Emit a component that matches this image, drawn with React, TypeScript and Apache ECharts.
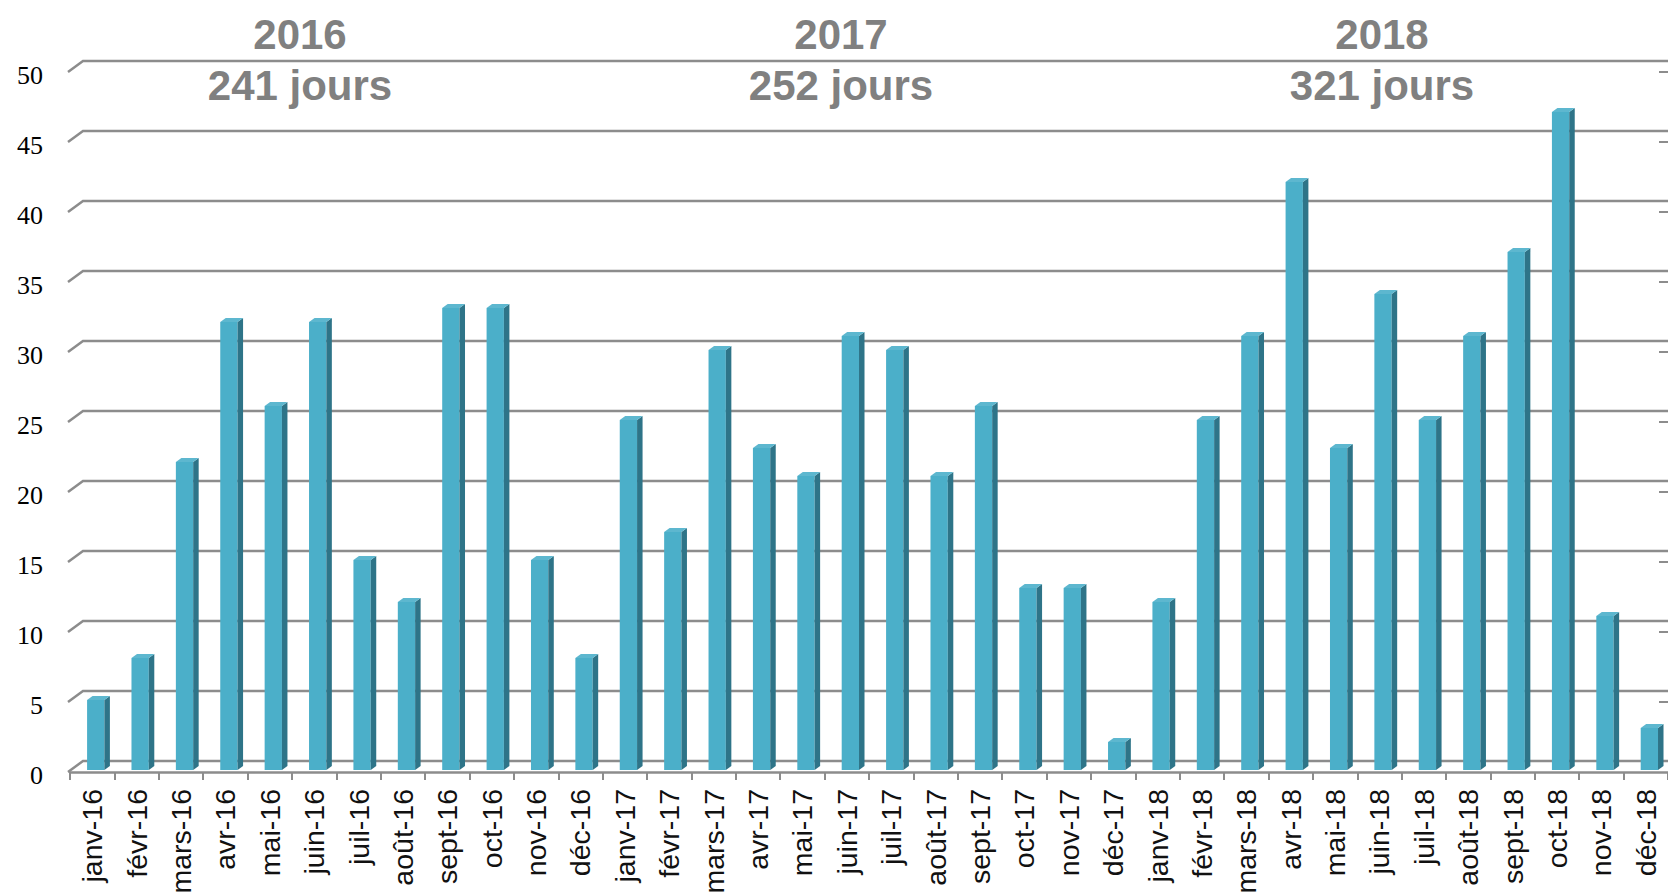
import React, { useEffect, useRef } from "react";
import * as echarts from "echarts";

const months = ["janv", "févr", "mars", "avr", "mai", "juin", "juil", "août", "sept", "oct", "nov", "déc"];
const years = ["16", "17", "18"];
const categories: string[] = years.flatMap((y) => months.map((m) => `${m}-${y}`));

const values2016 = [5, 8, 22, 32, 26, 32, 15, 12, 33, 33, 15, 8];
const values2017 = [25, 17, 30, 23, 21, 31, 30, 21, 26, 13, 13, 2];
const values2018 = [12, 25, 31, 42, 23, 34, 25, 31, 37, 47, 11, 3];
const allValues = [...values2016, ...values2017, ...values2018];

const yTicks = [0, 5, 10, 15, 20, 25, 30, 35, 40, 45, 50];

const yearTitles = [
  { year: "2016", days: "241 jours", x: 300 },
  { year: "2017", days: "252 jours", x: 841 },
  { year: "2018", days: "321 jours", x: 1382 },
];

const FRONT = "#4BAFC9";
const SIDE = "#2E7488";
const TOP = "#5DB7CF";
const GRID = "#8C8C8C";

export default function App() {
  const ref = useRef<HTMLDivElement>(null);

  useEffect(() => {
    if (!ref.current) return;
    const chart = echarts.init(ref.current, undefined, { renderer: "svg" });

    const option: any = {
      animation: false,
      backgroundColor: "#ffffff",
      grid: { left: 70, right: 0, top: 75, bottom: 121, containLabel: false, outerBoundsMode: "none" },
      xAxis: {
        type: "category",
        data: categories,
        offset: -3,
        axisLine: { show: true, lineStyle: { color: GRID, width: 2.5 } },
        axisTick: { show: true, length: 8, lineStyle: { color: GRID, width: 2 } },
        axisLabel: {
          rotate: 90,
          interval: 0,
          margin: 17,
          fontSize: 28.5,
          fontFamily: "Liberation Sans, Arial, sans-serif",
          color: "#111111",
        },
        splitLine: { show: false },
      },
      yAxis: {
        type: "value",
        min: 0,
        max: 50,
        interval: 5,
        axisLine: { show: false },
        axisTick: { show: false },
        splitLine: { show: false },
        axisLabel: {
          margin: 27,
          fontSize: 26,
          fontFamily: "Liberation Serif, Times New Roman, serif",
          color: "#000000",
        },
      },
      series: [
        {
          type: "custom",
          name: "grid",
          clip: false,
          z: 1,
          silent: true,
          data: yTicks.map((t) => [0, t]),
          renderItem: (params: any, api: any) => {
            const v = api.value(1);
            const y = api.coord([0, v])[1];
            const cs = params.coordSys;
            const left = cs.x;
            const right = cs.x + cs.width;
            const fy = y - 3;
            const by = y - 14;
            const children: any[] = [
              {
                type: "polyline",
                shape: { points: [[left - 2, fy], [left + 13, by], [right, by]] },
                style: { stroke: GRID, lineWidth: 2.5, fill: "none" },
              },
            ];
            if (v > 0) {
              children.push({
                type: "line",
                shape: { x1: right - 9, y1: fy, x2: right, y2: fy },
                style: { stroke: GRID, lineWidth: 2 },
              });
            }
            return { type: "group", children };
          },
        },
        {
          type: "custom",
          name: "jours",
          clip: false,
          z: 3,
          data: allValues.map((v, i) => [i, v]),
          renderItem: (params: any, api: any) => {
            const idx = api.value(0);
            const v = api.value(1);
            const base = api.coord([idx, 0]);
            const top = api.coord([idx, v]);
            const band = api.size([1, 0])[0];
            const w = band * 0.39;
            const x0 = base[0] - band * 0.115;
            const x1 = x0 + w;
            const yt = top[1] - 5;
            const yb = base[1] - 5;
            const dx = 5.5;
            const dy = -4;
            return {
              type: "group",
              children: [
                {
                  type: "rect",
                  shape: { x: x0, y: yt, width: w, height: yb - yt },
                  style: { fill: FRONT },
                },
                {
                  type: "polygon",
                  shape: { points: [[x1, yt], [x1 + dx, yt + dy], [x1 + dx, yb + dy], [x1, yb]] },
                  style: { fill: SIDE },
                },
                {
                  type: "polygon",
                  shape: { points: [[x0, yt], [x0 + dx, yt + dy], [x1 + dx, yt + dy], [x1, yt]] },
                  style: { fill: TOP },
                },
              ],
            };
          },
        },
      ],
      graphic: yearTitles.flatMap((t) => [
        {
          type: "text",
          x: t.x,
          y: 34,
          z: 10,
          style: {
            text: t.year,
            fontSize: 42,
            fontWeight: "bold",
            fontFamily: "Liberation Sans, Arial, sans-serif",
            fill: "#808080",
            align: "center",
            verticalAlign: "middle",
          },
        },
        {
          type: "text",
          x: t.x,
          y: 85,
          z: 10,
          style: {
            text: t.days,
            fontSize: 42,
            fontWeight: "bold",
            fontFamily: "Liberation Sans, Arial, sans-serif",
            fill: "#808080",
            align: "center",
            verticalAlign: "middle",
          },
        },
      ]),
    };

    chart.setOption(option);
    return () => {
      chart.dispose();
    };
  }, []);

  return (
    <div
      ref={ref}
      style={{ position: "absolute", left: 0, top: 0, width: 1668, height: 896, background: "#fff" }}
    />
  );
}
